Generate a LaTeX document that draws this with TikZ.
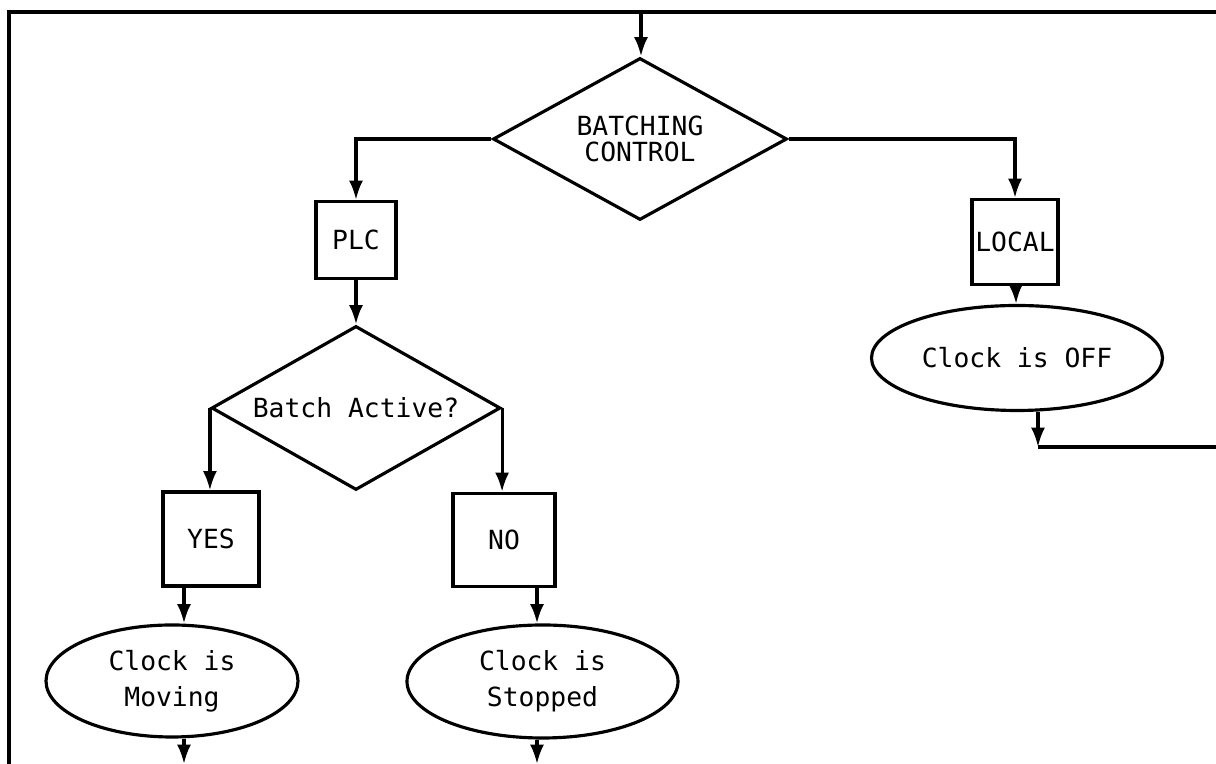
\documentclass[tikz,border=0pt]{standalone}
\usepackage{fontspec}
\setmonofont{DejaVu Sans Mono}
\usetikzlibrary{shapes.geometric,arrows.meta}
\tikzset{every node/.style={draw,line width=1.8pt,inner sep=1pt,font=\ttfamily\fontsize{15}{20.5}\selectfont}}
\tikzset{d/.style={diamond,align=center,shape aspect=1.8}}
\tikzset{b/.style={rectangle}}
\tikzset{e/.style={ellipse,align=center}}
\tikzset{a/.style={line width=1.8pt,-{Latex[length=11pt,width=8pt]}}}

\begin{document}
\begin{tikzpicture}
      \useasboundingbox (0,0) rectangle (24.32,15.28);
      % page frame, open at the bottom and on the right
      \draw[line width=2.2pt] (0.18,0) -- (0.18,15.04) -- (24.32,15.04);
      \coordinate (top) at (12.82,15.04);
      \node[d,minimum width=5.88cm,minimum height=3.24cm,font=\ttfamily\fontsize{15}{14.5}\selectfont] (ctrl) at (12.8,12.5) {BATCHING\\CONTROL};
      \node[b,minimum width=1.6cm,minimum height=1.54cm] (plc) at (7.12,10.48) {PLC};
      \node[b,minimum width=1.72cm,minimum height=1.7cm] (loc) at (20.3,10.44) {LOCAL};
      \node[e,minimum width=5.82cm,minimum height=2.1cm] (off) at (20.34,8.12) {Clock is OFF};
      \node[d,minimum width=5.78cm,minimum height=3.28cm] (act) at (7.12,7.12) {Batch Active?};
      \node[b,minimum width=1.92cm,minimum height=1.88cm] (yes) at (4.22,4.5) {YES};
      \node[b,minimum width=2.04cm,minimum height=1.86cm] (no) at (10.08,4.48) {NO};
      \node[e,minimum width=5.04cm,minimum height=2.24cm] (mov) at (3.44,1.66) {Clock is\\Moving};
      \node[e,minimum width=5.42cm,minimum height=2.26cm] (stp) at (10.85,1.65) {Clock is\\Stopped};
      % columns of the lower arrows and the exit line
      \coordinate (mx) at (3.68,0);
      \coordinate (sx) at (10.74,0);
      \coordinate (ox) at (20.76,6.34);
      \coordinate (oe) at (24.32,6.34);
      \draw[a] (top) -- (top |- ctrl.north);
      \draw[a] (ctrl.west) -| (plc);
      \draw[a] (ctrl.east) -| (loc);
      \draw[a] (plc.south) -- (act.north);
      \draw[a] (act.west) -- (act.west |- yes.north);
      \draw[a] (act.east) -- (act.east |- no.north);
      \draw[a] (yes.south -| mx) -- (mx |- mov.north);
      \draw[a] (mov.south -| mx) -- (mx);
      \draw[a] (no.south -| sx) -- (sx |- stp.north);
      \draw[a] (stp.south -| sx) -- (sx);
      \draw[a] (loc) -- (off);
      \draw[a] (off.south -| ox) -- (ox);
      \draw[line width=1.8pt] (ox) -- (oe);
    \end{tikzpicture}
\end{document}
